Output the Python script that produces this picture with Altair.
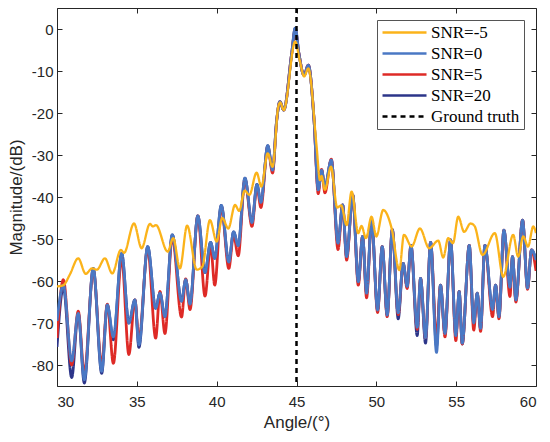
import altair as alt
import pandas as pd

# ---- data ----
angle_main = [30.0, 30.4, 30.92, 31.33, 31.71, 32.27, 32.8, 33.15, 33.53, 34.05,
              34.5, 34.88, 35.13, 35.68, 36.18, 36.45, 36.76, 37.22, 37.8, 38.06,
              38.33, 38.82, 39.27, 39.62, 39.88, 40.29, 40.76, 41.06, 41.35, 41.77,
              42.21, 42.52, 42.77, 43.2, 43.5, 43.76, 43.96, 44.2, 44.7, 44.92,
              45.15, 45.47, 45.74, 46.1, 46.36, 46.57, 46.78, 47.18, 47.6, 47.89,
              48.14, 48.52, 48.87, 49.14, 49.39, 49.7, 50.08, 50.37, 50.68, 51.0,
              51.37, 51.68, 51.93, 52.17, 52.56, 52.77, 53.08, 53.4, 53.77, 54.02,
              54.3, 54.65, 54.98, 55.19, 55.38, 55.82, 56.1, 56.32, 56.53, 56.8,
              57.28, 57.47, 57.68, 57.99, 58.37, 58.53, 58.74, 59.16, 59.47, 59.72, 60.0]

mag_snr0 = [-69.5, -61, -79, -67.7, -83.5, -57, -81.5, -65.7, -73.3, -53.4,
            -70, -64.5, -75.2, -51.8, -66.5, -62.9, -68.5, -49, -64.8, -59.7,
            -65.5, -44.5, -58, -50.8, -54.6, -42, -55.5, -48.3, -51.6, -35.5,
            -46.1, -37, -41.3, -27.8, -33.6, -21.7, -17.3, -19.3, -5.8, 0.2,
            -5.8, -11, -8.6, -21.7, -38.3, -33.6, -37.5, -31.2, -51, -41.9,
            -54.2, -39.5, -60.2, -49.4, -62.9, -45.5, -66.9, -51.8, -68.1, -47.8,
            -67.6, -55.8, -61.3, -51.5, -71, -59.4, -73.5, -50.8, -77, -61,
            -72.5, -50.2, -73, -62.5, -74.8, -51.5, -70, -62.9, -71.3, -51.5,
            -66.8, -61, -68.5, -47.9, -61.5, -54.2, -64.5, -45.5, -61.7, -52.6, -55]

mag_snr5 = [-73.6, -59.7, -80, -67.2, -82, -57.5, -80, -65.5, -79.6, -54.5,
            -77.5, -64.5, -74, -52.3, -73.6, -62.5, -72.5, -49.5, -68.6, -59.5,
            -66.8, -44.5, -63.6, -51.5, -61, -42.3, -57, -49, -54, -35.8,
            -47, -37.5, -42.5, -28, -34.3, -21.7, -17.3, -19.3, -5.8, -0.3,
            -5.8, -11, -8.6, -21.7, -39.2, -33.4, -39, -31, -52.5, -41.9,
            -55, -39.5, -61, -49.4, -64, -45.5, -67.5, -51.8, -68.5, -47.8,
            -68, -55.8, -61.8, -51.5, -71.5, -59.4, -73.5, -50.8, -74, -61,
            -73.3, -50.2, -74.2, -62.5, -75, -51.5, -71.7, -62.9, -72, -51.5,
            -68.5, -61, -69, -47.9, -63.7, -54.2, -65, -45.5, -62, -52.6, -57.6]

mag_snr20 = [-75.7, -61.5, -83, -67.7, -84.3, -57, -82, -65.7, -74, -53.4,
             -70, -64.5, -75.8, -51.8, -66.5, -62.9, -68.5, -49, -64.8, -59.7,
             -65.5, -44.5, -58, -50.8, -54.6, -42, -55.5, -48.3, -51.6, -35.5,
             -46.1, -37, -41.3, -27.8, -33.6, -21.7, -17.3, -19.3, -5.8, 0.2,
             -5.8, -11, -8.6, -21.7, -38.3, -33.6, -37.5, -31.2, -51, -41.9,
             -54.2, -39.5, -60.2, -49.4, -62.9, -45.5, -66.9, -51.8, -68.1, -47.8,
             -69, -55.8, -61.3, -51.5, -73, -59.4, -74.8, -50.8, -75.5, -61,
             -72.5, -50.2, -73, -62.5, -75, -51.5, -70, -62.9, -71.3, -51.5,
             -66.8, -61, -68.5, -47.9, -61.5, -54.2, -64.5, -45.5, -61.7, -52.6, -55]

angle_m5 = [30.0, 30.4, 30.8, 31.33, 31.8, 32.2, 32.5, 33.0, 33.46, 34.0,
            34.2, 34.82, 35.3, 35.82, 36.0, 36.2, 36.93, 37.28, 37.7, 38.15,
            38.75, 39.1, 39.58, 40.0, 40.35, 40.73, 41.15, 41.41, 41.75, 42.05,
            42.5, 42.8, 43.2, 43.5, 43.86, 43.98, 44.2, 44.92, 45.2, 45.48,
            45.74, 46.26, 46.47, 46.57, 46.78, 47.16, 47.55, 47.8, 48.14, 48.45,
            48.87, 49.07, 49.35, 49.7, 50.0, 50.43, 50.96, 51.44, 51.73, 52.21,
            52.73, 53.31, 53.88, 54.19, 54.5, 54.8, 55.13, 55.5, 55.9, 56.15,
            56.65, 57.42, 57.95, 58.57, 58.88, 59.2, 59.5, 59.83, 60.0]

mag_snrm5 = [-61.3, -61, -58.5, -54.6, -58.3, -57.0, -57.3, -54.6, -58.2, -52.6,
             -53.3, -46.3, -52.2, -46.4, -47, -46.7, -53, -49.8, -57, -46.8,
             -57.3, -56.6, -45.5, -50.6, -45, -47.5, -41.9, -43.3, -38.5, -39.5,
             -34.2, -37.5, -29.6, -32.8, -18.5, -17.5, -19.3, -3, -7.4, -11.3,
             -9.4, -28, -36, -35, -38.3, -32.8, -42.5, -42, -46.7, -38.7,
             -48.6, -46.9, -49.8, -44.7, -49.4, -43.1, -47.5, -57.4, -49, -51.8,
             -47.5, -52.2, -50.4, -54.4, -49.8, -51, -44.7, -48.3, -46.3, -46.9,
             -53.8, -48.6, -59, -49, -54.2, -49.4, -51.8, -47, -48.6]

truth_angle = [45]

series_names = ["SNR=-5", "SNR=0", "SNR=5", "SNR=20", "Ground truth"]
series_colors = ["#FBB31A", "#4A78C4", "#DE2A26", "#2C3589", "#000000"]
series_dash = [[1, 0], [1, 0], [1, 0], [1, 0], [5, 4]]

FONT = "Liberation Sans"
TXT = "#262626"

legend = alt.Legend(
    title=None, orient="top-right", offset=12,
    strokeColor="#555555", fillColor="white", padding=4,
    symbolType="M-1.27,0H6.73", symbolSize=121, symbolStrokeWidth=2.5,
    labelFont="Liberation Serif", labelFontSize=17, labelColor="black",
    labelOffset=33, rowPadding=3,
)
color_enc = alt.Color("series:N", scale=alt.Scale(domain=series_names, range=series_colors), legend=legend)
dash_enc = alt.StrokeDash("series:N", scale=alt.Scale(domain=series_names, range=series_dash), legend=legend)

xscale = alt.Scale(domain=[30, 60], nice=False, zero=False)
yscale = alt.Scale(domain=[-85, 5], nice=False, zero=False)

ax_bottom = alt.Axis(orient="bottom", values=[30, 35, 40, 45, 50, 55, 60], offset=-5, tickSize=5,
                     domain=False, labelPadding=8, title="Angle/(°)", titlePadding=5,
                     labelExpr="'' + datum.value")
ax_top = alt.Axis(orient="top", values=[30, 35, 40, 45, 50, 55, 60], offset=-5, tickSize=5,
                  domain=False, labels=False, title="")
ax_left = alt.Axis(orient="left", values=[-80, -70, -60, -50, -40, -30, -20, -10, 0], offset=-5,
                   tickSize=5, domain=False, labelPadding=4, title="Magnitude/(dB)", titlePadding=6,
                   labelExpr="'' + datum.value")
ax_right = alt.Axis(orient="right", values=[-80, -70, -60, -50, -40, -30, -20, -10, 0], offset=-5,
                    tickSize=5, domain=False, labels=False, title="")


def line_layer(xs, ys, name, width, xaxis=None, yaxis=None):
    df = pd.DataFrame({"angle": xs, "mag": ys, "series": name})
    xkw = {"axis": xaxis} if xaxis is not None else {"axis": None}
    ykw = {"axis": yaxis} if yaxis is not None else {"axis": None}
    return alt.Chart(df).mark_line(interpolate="monotone", strokeWidth=width, clip=True).encode(
        x=alt.X("angle:Q", scale=xscale, **xkw),
        y=alt.Y("mag:Q", scale=yscale, **ykw),
        color=color_enc,
        strokeDash=dash_enc,
    )


l20 = line_layer(angle_main, mag_snr20, "SNR=20", 2.8, ax_bottom, ax_left)
l5 = line_layer(angle_main, mag_snr5, "SNR=5", 2.8, ax_top, ax_right)
l0 = line_layer(angle_main, mag_snr0, "SNR=0", 2.8)
lm5 = line_layer(angle_m5, mag_snrm5, "SNR=-5", 2.3)

truth_df = pd.DataFrame({"angle": truth_angle, "series": ["Ground truth"]})
rule = alt.Chart(truth_df).mark_rule(strokeWidth=2.5).encode(
    x=alt.X("angle:Q", scale=xscale, axis=None),
    color=color_enc,
    strokeDash=dash_enc,
)

chart = alt.layer(l20, l5, l0, lm5, rule).resolve_axis(
    x="independent", y="independent"
).properties(
    width=479, height=378,
    autosize=alt.AutoSizeParams(type="none"),
    padding={"left": 49, "top": 0, "right": 6, "bottom": 48},
).configure_view(
    stroke=TXT, strokeWidth=1
).configure_axis(
    labelFont=FONT, labelFontSize=15, labelColor=TXT,
    titleFont=FONT, titleFontSize=17, titleColor=TXT, titleFontWeight="normal",
    tickColor=TXT, tickWidth=1, grid=False,
)

chart.save("out.html", embed_options={"renderer": "svg", "actions": False})
